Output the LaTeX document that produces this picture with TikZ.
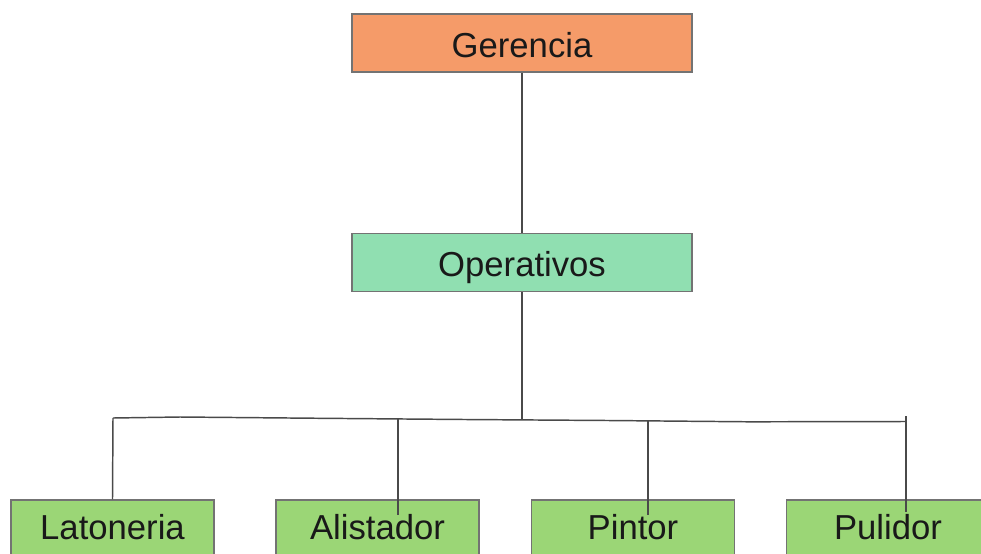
\documentclass[tikz,border=0pt]{standalone}
\usepackage{fontspec}
\setmainfont{Liberation Sans}
\usetikzlibrary{positioning}
\definecolor{gerfill}{HTML}{F59B69}
\definecolor{opefill}{HTML}{90DFB1}
\definecolor{areafill}{HTML}{9BD676}
\definecolor{linkgray}{HTML}{4A4A4A}
\tikzset{
  box/.style={draw=black!55, line width=0.9pt, inner sep=0pt,
    minimum height=43.5pt, text height=21pt, text depth=0pt,
    font=\fontsize{26}{30}\selectfont, text=black!90},
  wide/.style={box, minimum width=255pt},
  small/.style={box, minimum width=152.25pt, text depth=6pt},
  link/.style={draw=linkgray, line width=1.1pt}
}
\begin{document}
\begin{tikzpicture}[x=0.75pt, y=-0.75pt]
  \clip (0,0) rectangle (981,553);
  % top levels
  \node[wide, fill=gerfill] (ger) at (522,43) {Gerencia};
  \node[wide, fill=opefill] (ope) at (522,262.5) {Operativos};
  % areas
  \node[small, fill=areafill] (lat) at (112.5,529) {Latoneria};
  \node[small, fill=areafill] (ali) at (377.5,529) {Alistador};
  \node[small, fill=areafill] (pin) at (633,529) {Pintor};
  \node[small, fill=areafill] (pul) at (888,529) {Pulidor};
  % bus and drop points
  \coordinate (bus) at (522,420);
  \coordinate (busL) at (113,418);
  \coordinate (busR) at (906,421.5);
  \coordinate (aliD) at (398,515);
  \coordinate (pinD) at (648,515);
  \coordinate (pulD) at (906,512);
  \draw[link] (ger) -- (ope);
  \draw[link] (ope) -- (bus);
  \draw[link] (busL) -- (180,417) -- (322,418.3) -- (465,419.5) -- (608,420.5) -- (750,421.8) -- (busR);
  \draw[link] (busL) -- (lat.north);
  \draw[link] (398,419) -- (aliD);
  \draw[link] (648,421) -- (pinD);
  \draw[link] (906,416) -- (pulD);
\end{tikzpicture}
\end{document}
